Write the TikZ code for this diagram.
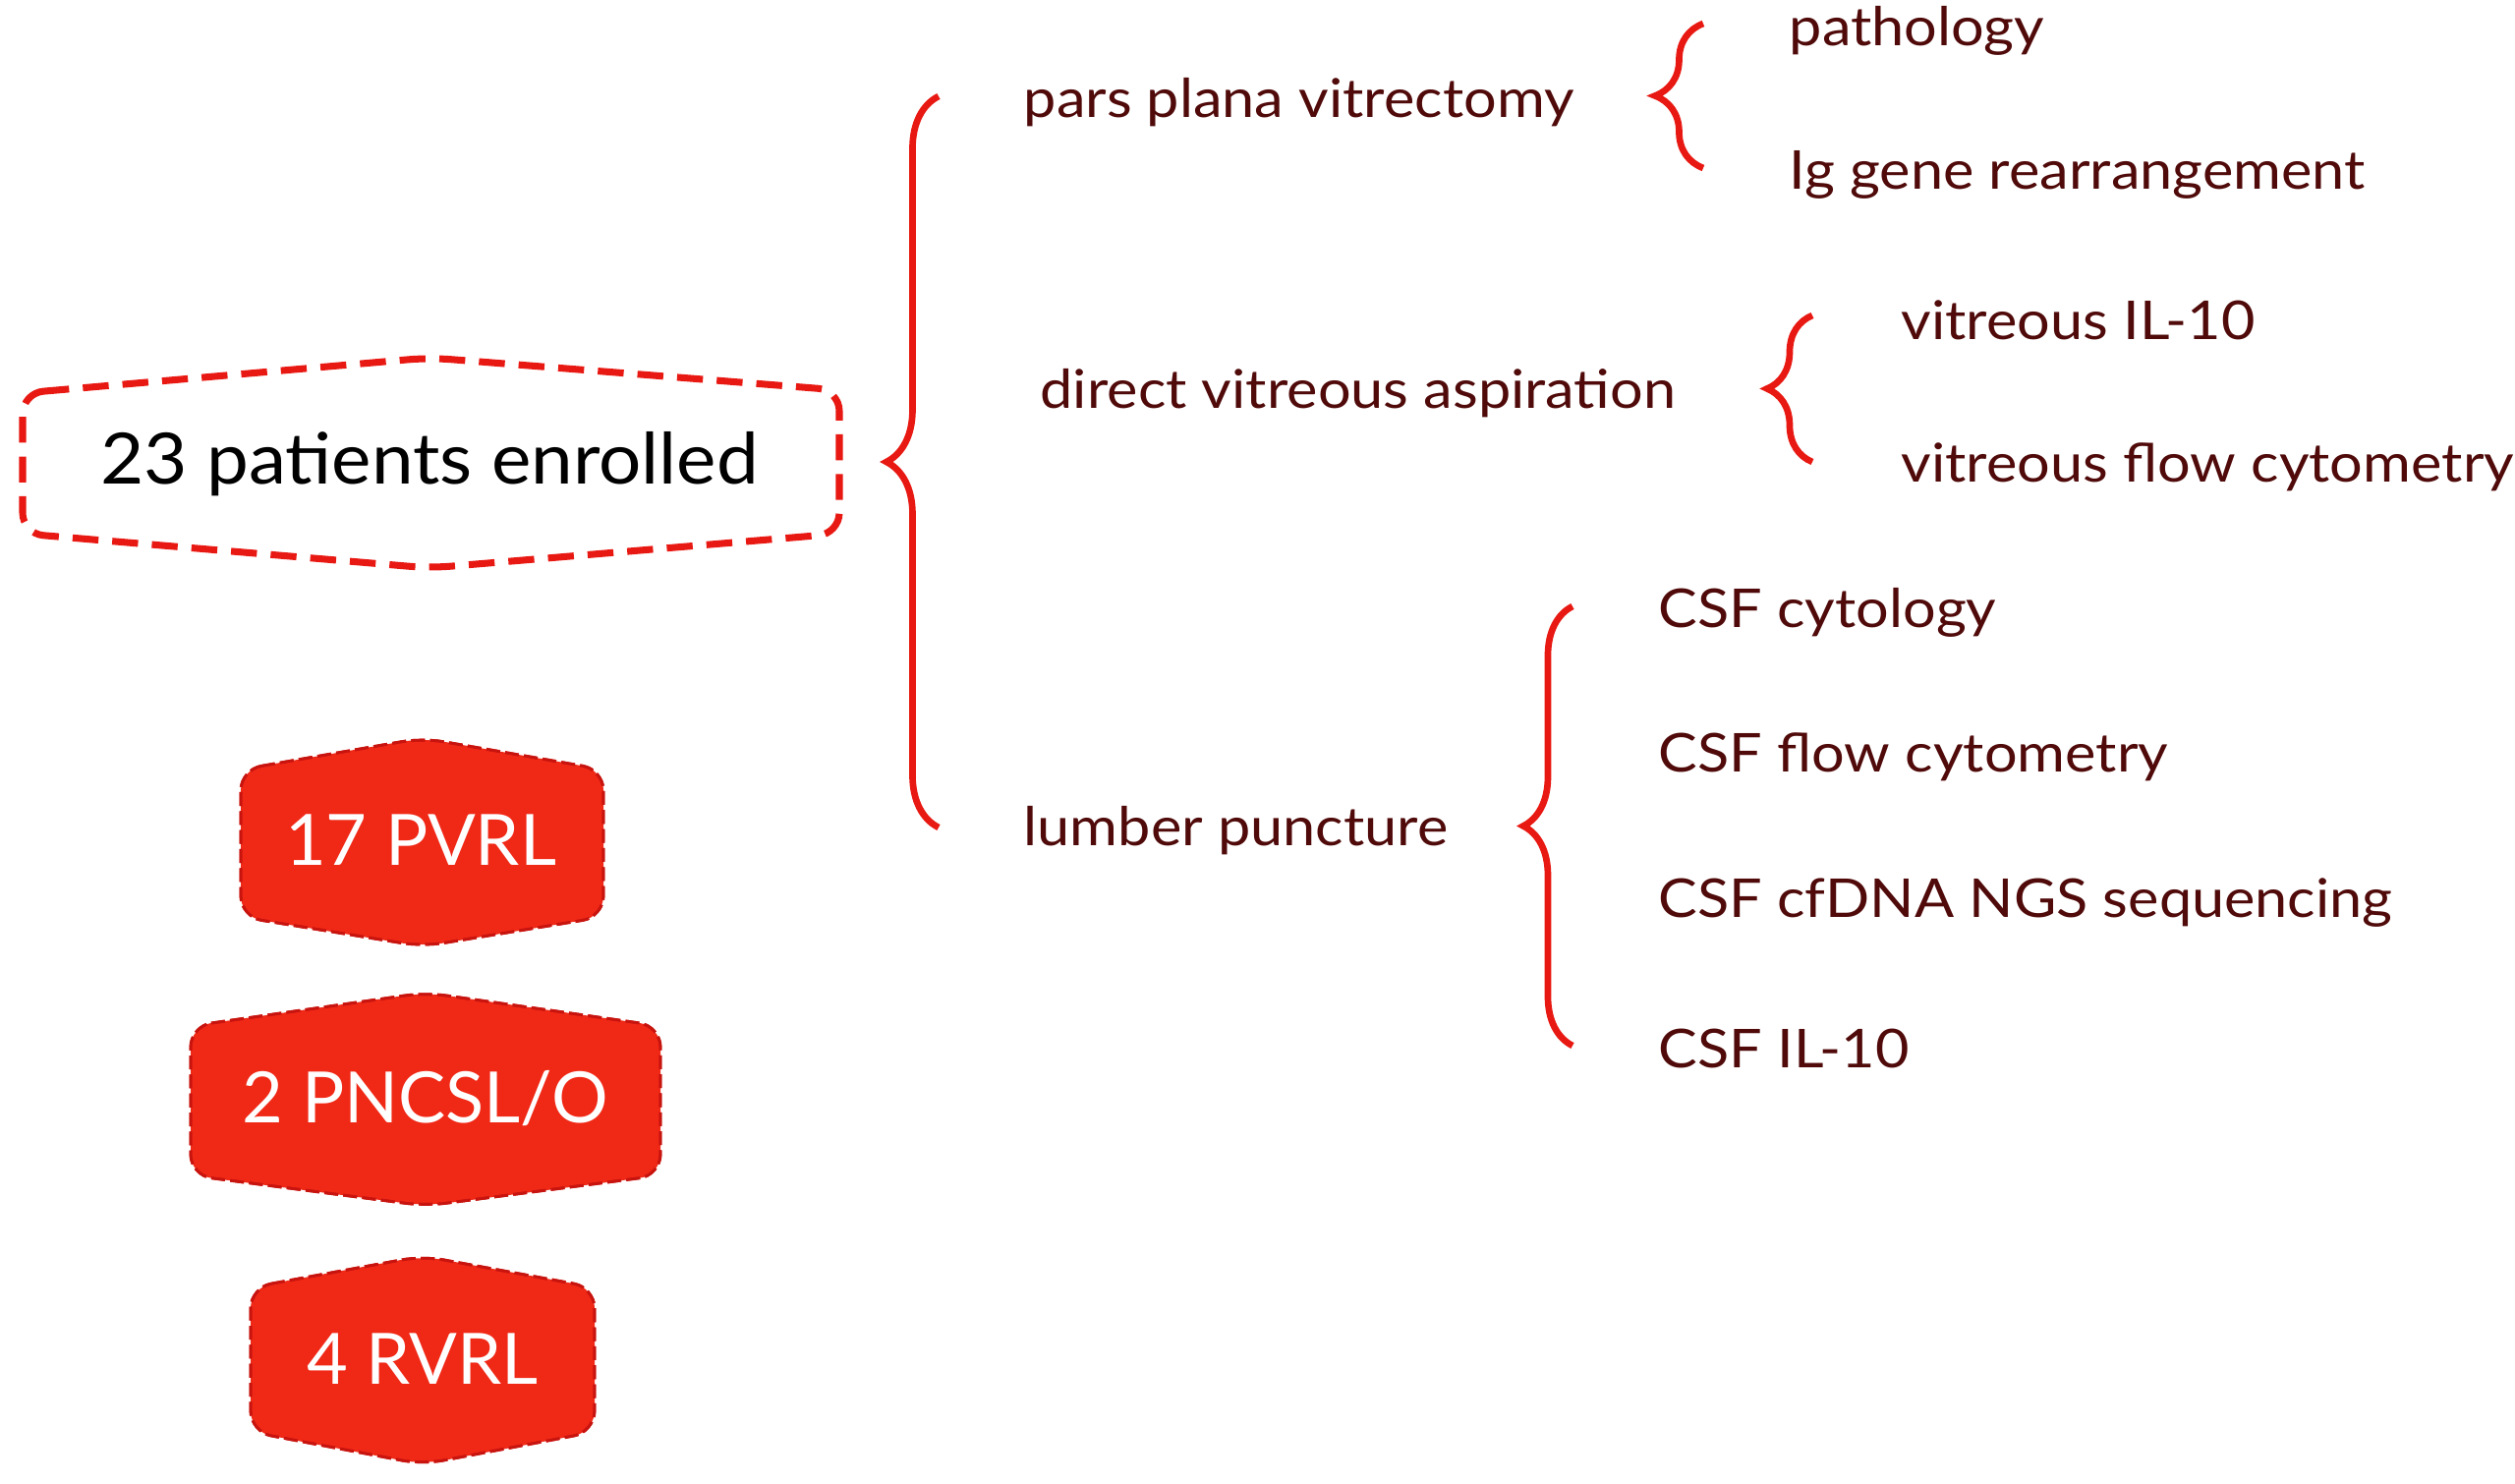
\documentclass[tikz,border=0pt]{standalone}
\usepackage{fontspec}
\setmainfont{Lato}
\newfontfamily\lblfont{Lato}[FakeStretch=1.09]
\newfontfamily\bigfont{Lato}[FakeStretch=1.06]
\usetikzlibrary{decorations.pathreplacing}
\definecolor{bracered}{RGB}{232,24,18}
\definecolor{hexred}{RGB}{240,40,22}
\definecolor{hexedge}{RGB}{200,20,15}
\definecolor{maroon}{RGB}{80,10,10}
\tikzset{
  lbl/.style={anchor=west,inner sep=0pt,text=maroon,font=\lblfont\fontsize{15.5}{18}\selectfont},
  bigtxt/.style={inner sep=0pt,text=black,font=\bigfont\fontsize{20.5}{24}\selectfont},
  hextxt/.style={inner sep=0pt,text=white,font=\fontsize{20.5}{24}\selectfont},
  brc/.style={draw=bracered,line width=1.9pt,decorate,decoration={brace,amplitude=#1}},
  outlinehex/.style={draw=bracered,line width=2pt,dash pattern=on 7.5pt off 4pt,rounded corners=6pt},
  filledhex/.style={fill=hexred,draw=hexedge,line width=0.8pt,dash pattern=on 4pt off 1.5pt,rounded corners=6pt}
}
\begin{document}
\begin{tikzpicture}[x=0.01cm,y=-0.01cm]
\useasboundingbox (0,0) rectangle (2559,1510);
% big hexagon
\draw[outlinehex] (23,400) -- (437,364) -- (854,397) -- (854,543) -- (437,578) -- (23,543) -- cycle;
\node[bigtxt] (enrolled) at (437,472) {23 patients enrolled};
% filled hexagons
\fill[filledhex] (245,783) -- (430,751) -- (614,783) -- (614,933) -- (430,963) -- (245,933) -- cycle;
\fill[filledhex] (194,1044) -- (433,1010) -- (672,1044) -- (672,1196) -- (433,1227) -- (194,1196) -- cycle;
\fill[filledhex] (255,1310) -- (430,1278) -- (605,1310) -- (605,1457) -- (430,1490) -- (255,1457) -- cycle;
\draw[filledhex,fill=none] (245,783) -- (430,751) -- (614,783) -- (614,933) -- (430,963) -- (245,933) -- cycle;
\draw[filledhex,fill=none] (194,1044) -- (433,1010) -- (672,1044) -- (672,1196) -- (433,1227) -- (194,1196) -- cycle;
\draw[filledhex,fill=none] (255,1310) -- (430,1278) -- (605,1310) -- (605,1457) -- (430,1490) -- (255,1457) -- cycle;
\node[hextxt] (pvrl) at (428,855) {17 PVRL};
\node[hextxt] (pncsl) at (433,1118) {2 PNCSL/O};
\node[hextxt] (rvrl) at (430,1383) {4 RVRL};
% level 1
\node[lbl] (ppv) at (1041,104) {pars plana vitrectomy};
\node[lbl] (dva) at (1058,400) {direct vitreous aspiration};
\node[lbl] (lp) at (1041,845) {lumber puncture};
% level 2
\node[lbl] (path) at (1820,31) {pathology};
\node[lbl] (ig) at (1820,178) {Ig gene rearrangement};
\node[lbl] (vil) at (1934,326) {vitreous IL-10};
\node[lbl] (vfc) at (1934,475) {vitreous flow cytometry};
\node[lbl] (csfc) at (1687,623) {CSF cytology};
\node[lbl] (csff) at (1687,770) {CSF flow cytometry};
\node[lbl] (csfn) at (1687,919) {CSF cfDNA NGS sequencing};
\node[lbl] (csfi) at (1687,1067) {CSF IL-10};
% braces
\coordinate (b1t) at (955,98);
\coordinate (b1b) at (955,842);
\coordinate (b2t) at (1733,24);
\coordinate (b2b) at (1733,171);
\coordinate (b3t) at (1844,321);
\coordinate (b3b) at (1844,470);
\coordinate (b4t) at (1600,617);
\coordinate (b4b) at (1600,1064);
\draw[brc=0.53cm] (b1b) -- (b1t);
\draw[brc=0.49cm] (b2b) -- (b2t);
\draw[brc=0.46cm] (b3b) -- (b3t);
\draw[brc=0.50cm] (b4b) -- (b4t);
\end{tikzpicture}
\end{document}
